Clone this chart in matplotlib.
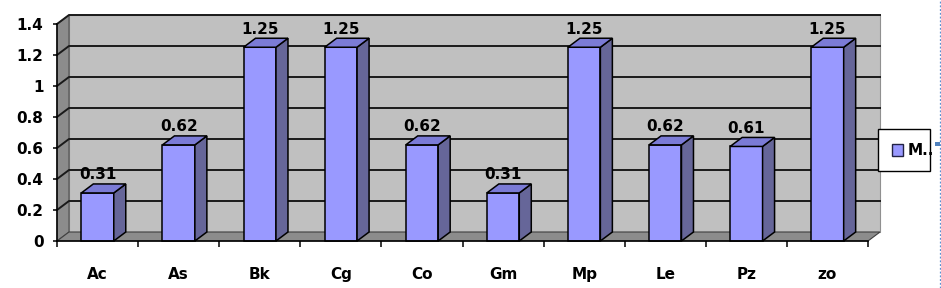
import numpy as np
import matplotlib
matplotlib.use("Agg")
import matplotlib.pyplot as plt
from matplotlib.patches import Polygon, Rectangle
from matplotlib.lines import Line2D
from matplotlib.transforms import IdentityTransform

categories = ["Ac", "As", "Bk", "Cg", "Co", "Gm", "Mp", "Le", "Pz", "zo"]
values = [0.31, 0.62, 1.25, 1.25, 0.62, 0.31, 1.25, 0.62, 0.61, 1.25]
yticks = [0, 0.2, 0.4, 0.6, 0.8, 1.0, 1.2, 1.4]
ytick_labels = ["0", "0.2", "0.4", "0.6", "0.8", "1", "1.2", "1.4"]
series_name = "M.."

FS = 11
W, H = 941, 288
fig = plt.figure(figsize=(W / 100, H / 100), dpi=100)
ax = fig.add_axes([57 / W, 47 / H, 811 / W, 217 / H])
ax.set_xlim(-0.5, len(categories) - 0.5)
ax.set_ylim(0, 1.4)
ax.patch.set_visible(False)

# depth of the fake 3d box, in pixels
DX, DY = 12, 9
BAR_W = 0.4


def pt(x, y, d=0):
    px, py = ax.transData.transform((x, y))
    return (px + DX * d, py + DY * d)


def face(pts, **kw):
    ax.add_patch(Polygon([pt(*p) for p in pts], closed=True,
                         transform=IdentityTransform(), clip_on=False, **kw))


x0, x1 = -0.5, len(categories) - 0.5
ytop = 1.4

# walls + floor
face([(x0, 0, 1), (x1, 0, 1), (x1, ytop, 1), (x0, ytop, 1)],
     fc="#C0C0C0", ec="#909090", lw=0.8, zorder=0)
face([(x0, 0, 0), (x0, 0, 1), (x0, ytop, 1), (x0, ytop, 0)],
     fc="#8C8C8C", ec="#505050", lw=0.8, zorder=0)
face([(x0, 0, 0), (x1, 0, 0), (x1, 0, 1), (x0, 0, 1)],
     fc="#8C8C8C", ec="#404040", lw=0.8, zorder=0)

# gridlines on side and back walls
for y in yticks[1:]:
    p = [pt(x0, y, 0), pt(x0, y, 1), pt(x1, y, 1)]
    ax.add_line(Line2D([q[0] for q in p], [q[1] for q in p],
                       transform=IdentityTransform(), color="#1a1a1a",
                       lw=1.4, clip_on=False, zorder=1))

# bars
for i, v in enumerate(values):
    a, b = i - BAR_W / 2, i + BAR_W / 2
    face([(a, 0, 0), (b, 0, 0), (b, v, 0), (a, v, 0)],
         fc="#9999FF", ec="black", lw=1.1, zorder=2)
    face([(b, 0, 0), (b, 0, 1), (b, v, 1), (b, v, 0)],
         fc="#666699", ec="black", lw=1.1, zorder=2)
    face([(a, v, 0), (b, v, 0), (b, v, 1), (a, v, 1)],
         fc="#7B7BD6", ec="black", lw=1.1, zorder=2)
    ax.annotate(f"{v:.2f}", (i, v), xytext=(0, 9.7), textcoords="offset points",
                ha="center", va="baseline", fontsize=FS, fontweight="bold",
                annotation_clip=False, zorder=3)

for s in ["top", "right"]:
    ax.spines[s].set_visible(False)
for s in ["left", "bottom"]:
    ax.spines[s].set_color("black")
    ax.spines[s].set_linewidth(1.1)

ax.set_yticks(yticks)
ax.set_yticklabels(ytick_labels, fontsize=FS, fontweight="bold")
ax.tick_params(axis="y", length=2.9, width=1.1, pad=6.8)
ax.set_xticks(range(len(categories)))
ax.set_xticklabels(categories, fontsize=FS, fontweight="bold")
ax.set_xticks(np.arange(-0.5, len(categories), 1), minor=True)
ax.tick_params(axis="x", which="major", length=0, pad=19)
ax.tick_params(axis="x", which="minor", length=4.3, width=1.1)


# legend (drawn by hand so the truncated look can be matched)
def fx(x):
    return x / W


def fy(y):
    return 1 - y / H


fig.add_artist(Rectangle((fx(878), fy(171)), 52 / W, 42 / H, transform=fig.transFigure,
                         fc="white", ec="black", lw=1.0, zorder=5))
fig.add_artist(Rectangle((fx(892), fy(156)), 11 / W, 12 / H, transform=fig.transFigure,
                         fc="#9999FF", ec="#222244", lw=1.0, zorder=6))
fig.text(fx(908), fy(150.5), series_name, fontsize=FS, fontweight="bold",
         va="center", ha="left", zorder=7)

# selection marks on the right edge
fig.add_artist(Line2D([fx(939.5), fx(939.5)], [0, 1], transform=fig.transFigure,
                      color="#5B8FD0", lw=0.9, ls=(0, (1.5, 1.5))))
fig.add_artist(Rectangle((fx(935), fy(146)), 5 / W, 4 / H, transform=fig.transFigure,
                         fc="#4F81BD", ec="none", zorder=8))

fig.savefig("out.png", dpi=100)
